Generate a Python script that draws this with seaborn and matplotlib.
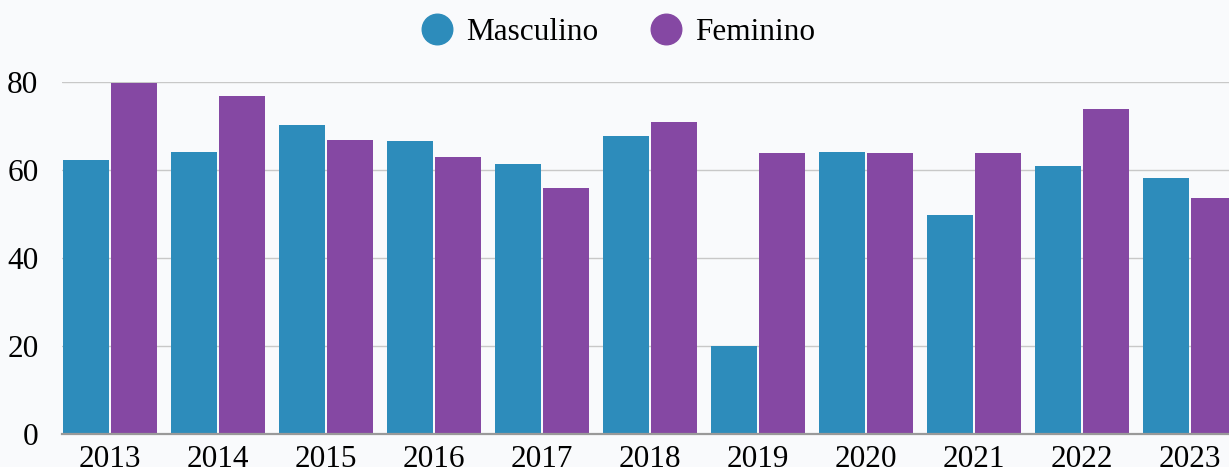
import numpy as np
import pandas as pd
import matplotlib.pyplot as plt
import seaborn as sns
from matplotlib.lines import Line2D

years = ['2013', '2014', '2015', '2016', '2017', '2018', '2019', '2020', '2021', '2022', '2023']
masculino = [62.3, 64.2, 70.2, 66.5, 61.4, 67.8, 20.0, 64.2, 49.8, 60.9, 58.1]
feminino = [79.8, 76.9, 66.8, 63.0, 55.9, 70.8, 63.8, 63.8, 63.8, 73.8, 53.6]
series = ['Masculino', 'Feminino']
colors = ['#2D8CBB', '#8548A3']

df = pd.DataFrame({
    'ano': years * 2,
    'valor': masculino + feminino,
    'sexo': [series[0]] * len(years) + [series[1]] * len(years),
})

sns.set_theme(style='white')
plt.rcParams['font.family'] = ['Liberation Serif', 'DejaVu Serif']

bg = '#F9FAFC'
fs = 22.5
fig = plt.figure(figsize=(12.29, 4.67), dpi=100, facecolor=bg)
ax = fig.add_axes([62 / 1229, 33 / 467, 1 - 62 / 1229, 352 / 467])
ax.set_facecolor(bg)

sns.barplot(data=df, x='ano', y='valor', hue='sexo', palette=colors,
            width=0.889, gap=0.04, linewidth=0, saturation=1, ax=ax)
ax.get_legend().remove()

ax.set_ylim(0, 80)
ax.set_xlim(-0.444, -0.444 + 1167 / 108)
ax.set_yticks([0, 20, 40, 60, 80])
ax.yaxis.grid(True, color='#C8C8C8', linewidth=1)
ax.set_axisbelow(True)
for s in ['top', 'right', 'left']:
    ax.spines[s].set_visible(False)
ax.spines['bottom'].set_color('#999999')
ax.spines['bottom'].set_linewidth(1.6)
ax.set_xlabel('')
ax.set_ylabel('')
ax.tick_params(axis='y', length=0, pad=17, labelsize=fs, labelcolor='black')
ax.tick_params(axis='x', length=0, pad=8, labelsize=fs, labelcolor='black')

handles = [Line2D([0], [0], marker='o', linestyle='', markersize=22,
                  markerfacecolor=c, markeredgecolor=c) for c in colors]
leg = fig.legend(handles, series, loc='center', bbox_to_anchor=(0.4968, 1 - 32 / 467),
                 ncol=2, frameon=False, fontsize=fs, handletextpad=-0.07,
                 columnspacing=1.18)
for t in leg.get_texts():
    t.set_color('black')

fig.savefig('out.png', dpi=100, facecolor=bg)
